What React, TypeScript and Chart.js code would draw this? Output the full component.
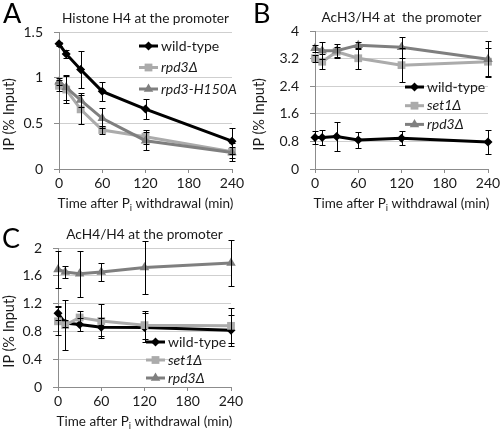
import React, { useEffect, useRef } from "react";
import { Chart, registerables } from "chart.js";
Chart.register(...registerables);

const FONT = "Lato, 'Noto Sans', 'DejaVu Sans', sans-serif";
const TEXT = "#1a1a1a";
const BLACK = "#000000";
const LIGHT = "#ababab";
const DARK = "#7f7f7f";

// shared
const timePoints = [0, 10, 30, 60, 120, 240];
const xTickValues = [0, 60, 120, 180, 240];
const xTitleMain = "Time after P";
const xTitleSub = "i";
const xTitleTail = " withdrawal (min)";
const yTitle = "IP (% Input)";

// Panel A
const aTitle = "Histone H4 at the promoter";
const aYTicks = [0, 0.5, 1, 1.5];
const aLabels = ["wild-type", "rpd3\u0394", "rpd3-H150A"];
const aWildType = [1.37, 1.26, 1.09, 0.85, 0.656, 0.305];
const aWildTypeErr = [0.02, 0.04, 0.2, 0.1, 0.11, 0.14];
const aRpd3 = [0.91, 0.87, 0.653, 0.427, 0.354, 0.19];
const aRpd3Err = [0.06, 0.15, 0.16, 0.04, 0.075, 0.1];
const aH150A = [0.956, 0.894, 0.755, 0.555, 0.31, 0.18];
const aH150AErr = [0.04, 0.14, 0.08, 0.11, 0.1, 0.06];

// Panel B
const bTitle = "AcH3/H4 at  the promoter";
const bYTicks = [0, 0.8, 1.6, 2.4, 3.2, 4];
const bLabels = ["wild-type", "set1\u0394", "rpd3\u0394"];
const bWildType = [0.91, 0.91, 0.94, 0.84, 0.89, 0.78];
const bWildTypeErr = [0.18, 0.22, 0.41, 0.23, 0.2, 0.34];
const bSet1 = [3.21, 3.11, 3.4, 3.21, 3.01, 3.11];
const bSet1Err = [0.1, 0.22, 0.15, 0.3, 0.5, 0.4];
const bRpd3 = [3.5, 3.43, 3.43, 3.59, 3.53, 3.18];
const bRpd3Err = [0.1, 0.25, 0.2, 0.1, 0.3, 0.52];

// Panel C
const cTitle = "AcH4/H4 at the promoter";
const cYTicks = [0, 0.4, 0.8, 1.2, 1.6, 2];
const cLabels = ["wild-type", "set1\u0394", "rpd3\u0394"];
const cWildType = [1.06, 0.92, 0.9, 0.86, 0.855, 0.815];
const cWildTypeErr = [0.1, 0.05, 0.09, 0.13, 0.21, 0.22];
const cSet1 = [0.945, 0.89, 1.0, 0.95, 0.89, 0.88];
const cSet1Err = [0.2, 0.36, 0.1, 0.24, 0.2, 0.25];
const cRpd3 = [1.69, 1.655, 1.63, 1.655, 1.72, 1.785];
const cRpd3Err = [0.27, 0.09, 0.33, 0.13, 0.38, 0.33];

type Series = {
  label: string;
  values: number[];
  errors: number[];
  color: string;
  style: string;
  radius: number;
  italic: boolean;
  order: number;
};

type PanelProps = {
  left: number;
  top: number;
  width: number;
  height: number;
  letter: string;
  letterX: number;
  letterY: number;
  title: string;
  yTicks: number[];
  series: Series[];
  area: { l: number; t: number; r: number; b: number };
  legend: { dx: number; dy: number; gap: number };
};

function drawMarker(ctx: CanvasRenderingContext2D, style: string, x: number, y: number, r: number, color: string) {
  ctx.save();
  ctx.fillStyle = color;
  ctx.beginPath();
  if (style === "rectRot") {
    ctx.moveTo(x, y - r);
    ctx.lineTo(x + r, y);
    ctx.lineTo(x, y + r);
    ctx.lineTo(x - r, y);
  } else if (style === "rect") {
    const s = r * Math.SQRT1_2;
    ctx.rect(x - s, y - s, 2 * s, 2 * s);
  } else {
    let a = 0;
    ctx.moveTo(x + Math.sin(a) * r, y - Math.cos(a) * r);
    a += (2 * Math.PI) / 3;
    ctx.lineTo(x + Math.sin(a) * r, y - Math.cos(a) * r);
    a += (2 * Math.PI) / 3;
    ctx.lineTo(x + Math.sin(a) * r, y - Math.cos(a) * r);
  }
  ctx.closePath();
  ctx.fill();
  ctx.restore();
}

function Panel(p: PanelProps) {
  const ref = useRef<HTMLCanvasElement | null>(null);
  useEffect(() => {
    if (!ref.current) return;
    const extras = {
      id: "extras",
      afterDatasetsDraw(chart: any) {
        const { ctx, scales } = chart;
        const xs = scales.x;
        const ys = scales.y;
        ctx.save();
        ctx.strokeStyle = "#000";
        ctx.lineWidth = 1;
        p.series.forEach((s) => {
          s.values.forEach((v, i) => {
            const px = Math.round(xs.getPixelForValue(timePoints[i])) + 0.5;
            const t = Math.round(ys.getPixelForValue(v + s.errors[i])) + 0.5;
            const b = Math.round(ys.getPixelForValue(v - s.errors[i])) + 0.5;
            ctx.beginPath();
            ctx.moveTo(px, t);
            ctx.lineTo(px, b);
            ctx.moveTo(px - 3, t);
            ctx.lineTo(px + 3, t);
            ctx.moveTo(px - 3, b);
            ctx.lineTo(px + 3, b);
            ctx.stroke();
          });
        });
        ctx.restore();
      },
      afterDraw(chart: any) {
        const { ctx, chartArea } = chart;
        ctx.save();
        ctx.textAlign = "left";
        // panel letter
        ctx.fillStyle = "#000";
        ctx.font = `27px ${FONT}`;
        ctx.textBaseline = "alphabetic";
        ctx.fillText(p.letter, p.letterX, p.letterY);
        // x axis title with subscript
        const cx = (chartArea.left + chartArea.right) / 2;
        ctx.fillStyle = TEXT;
        const mainFont = `13.5px ${FONT}`;
        const subFont = `9.5px ${FONT}`;
        ctx.font = mainFont;
        const w1 = ctx.measureText(xTitleMain).width;
        const w3 = ctx.measureText(xTitleTail).width;
        ctx.font = subFont;
        const w2 = ctx.measureText(xTitleSub).width;
        const base = chartArea.bottom + 39;
        const x0 = cx - (w1 + w2 + w3) / 2;
        ctx.font = mainFont;
        ctx.fillText(xTitleMain, x0, base);
        ctx.font = subFont;
        ctx.fillText(xTitleSub, x0 + w1, base + 3);
        ctx.font = mainFont;
        ctx.fillText(xTitleTail, x0 + w1 + w2, base);
        // legend
        p.series.forEach((s, i) => {
          const ly = chartArea.top + p.legend.dy + i * p.legend.gap;
          const lx = chartArea.left + p.legend.dx;
          ctx.strokeStyle = s.color;
          ctx.lineWidth = 3;
          ctx.beginPath();
          ctx.moveTo(lx, ly);
          ctx.lineTo(lx + 19, ly);
          ctx.stroke();
          drawMarker(ctx, s.style, lx + 9.5, ly, s.radius, s.color);
          ctx.fillStyle = TEXT;
          ctx.font = `${s.italic ? "italic " : ""}14px ${FONT}`;
          ctx.textBaseline = "middle";
          ctx.fillText(s.label, lx + 22, ly);
        });
        ctx.restore();
      },
    };
    const chart = new Chart(ref.current, {
      type: "line",
      data: {
        datasets: p.series.map((s) => ({
          label: s.label,
          data: s.values.map((v, i) => ({ x: timePoints[i], y: v })),
          borderColor: s.color,
          backgroundColor: s.color,
          borderWidth: 3,
          pointStyle: s.style as any,
          pointRadius: s.radius,
          pointBorderWidth: 0,
          pointBackgroundColor: s.color,
          tension: 0,
          order: s.order,
          clip: false as any,
        })),
      },
      options: {
        responsive: false,
        animation: false,
        layout: { padding: { left: 0, top: p.area.t, right: p.width - p.area.r, bottom: 0 } },
        plugins: {
          legend: { display: false },
          tooltip: { enabled: false },
          title: { display: false },
        },
        scales: {
          x: {
            type: "linear",
            min: 0,
            max: 240,
            afterBuildTicks: (s: any) => {
              s.ticks = xTickValues.map((v) => ({ value: v }));
            },
            afterFit: (s: any) => {
              s.height = p.height - p.area.b;
              s.paddingRight = 0;
              s.paddingLeft = 0;
            },
            ticks: {
              color: TEXT,
              font: { family: FONT, size: 14 },
              padding: 2,
              maxRotation: 0,
              callback: (v: any) => String(v),
            },
            grid: { drawOnChartArea: false, drawTicks: true, tickLength: 4, tickColor: "#8c8c8c" },
            border: { color: "#8c8c8c", width: 1 },
          },
          y: {
            min: p.yTicks[0],
            max: p.yTicks[p.yTicks.length - 1],
            afterBuildTicks: (s: any) => {
              s.ticks = p.yTicks.map((v) => ({ value: v }));
            },
            afterFit: (s: any) => {
              s.width = p.area.l;
            },
            ticks: {
              color: TEXT,
              font: { family: FONT, size: 14 },
              padding: 11,
              callback: (v: any) => String(v),
            },
            grid: { color: "#cfcfcf", drawTicks: true, tickLength: 5, tickColor: "#8c8c8c" },
            border: { color: "#8c8c8c", width: 1 },
          },
        },
      },
      plugins: [extras as any],
    });
    return () => chart.destroy();
  }, []);
  const plotW = p.area.r - p.area.l;
  const plotH = p.area.b - p.area.t;
  return (
    <>
      <canvas
        ref={ref}
        width={p.width}
        height={p.height}
        style={{ position: "absolute", left: p.left, top: p.top, width: p.width, height: p.height }}
      />
      <div
        style={{
          position: "absolute",
          left: p.left + p.area.l - 20,
          top: p.top + p.area.t - 23,
          width: plotW + 40,
          height: 18,
          lineHeight: "18px",
          textAlign: "center",
          whiteSpace: "pre",
          fontFamily: FONT,
          fontSize: 13.7,
          color: TEXT,
        }}
      >
        {p.title}
      </div>
      <div
        style={{
          position: "absolute",
          left: p.left,
          top: p.top + p.area.t + 14,
          width: 18,
          height: plotH,
          display: "flex",
          alignItems: "center",
          justifyContent: "center",
        }}
      >
        <span
          style={{
            writingMode: "vertical-rl",
            transform: "rotate(180deg)",
            whiteSpace: "pre",
            fontFamily: FONT,
            fontSize: 14.5,
            lineHeight: "18px",
            color: TEXT,
          }}
        >
          {yTitle}
        </span>
      </div>
    </>
  );
}

const aSeries: Series[] = [
  { label: aLabels[0], values: aWildType, errors: aWildTypeErr, color: BLACK, style: "rectRot", radius: 4.5, italic: false, order: 0 },
  { label: aLabels[1], values: aRpd3, errors: aRpd3Err, color: LIGHT, style: "rect", radius: 5.5, italic: true, order: 2 },
  { label: aLabels[2], values: aH150A, errors: aH150AErr, color: DARK, style: "triangle", radius: 5.5, italic: true, order: 1 },
];
const bSeries: Series[] = [
  { label: bLabels[0], values: bWildType, errors: bWildTypeErr, color: BLACK, style: "rectRot", radius: 4.5, italic: false, order: 2 },
  { label: bLabels[1], values: bSet1, errors: bSet1Err, color: LIGHT, style: "rect", radius: 5.5, italic: true, order: 1 },
  { label: bLabels[2], values: bRpd3, errors: bRpd3Err, color: DARK, style: "triangle", radius: 5.5, italic: true, order: 0 },
];
const cSeries: Series[] = [
  { label: cLabels[0], values: cWildType, errors: cWildTypeErr, color: BLACK, style: "rectRot", radius: 4.5, italic: false, order: 2 },
  { label: cLabels[1], values: cSet1, errors: cSet1Err, color: LIGHT, style: "rect", radius: 5.5, italic: true, order: 1 },
  { label: cLabels[2], values: cRpd3, errors: cRpd3Err, color: DARK, style: "triangle", radius: 5.5, italic: true, order: 0 },
];

export default function App() {
  return (
    <div style={{ position: "absolute", left: 0, top: 0, width: 500, height: 429, background: "#fff", overflow: "hidden" }}>
      <Panel
        left={0}
        top={0}
        width={250}
        height={215}
        letter="A"
        letterX={3}
        letterY={23}
        title={aTitle}
        yTicks={aYTicks}
        series={aSeries}
        area={{ l: 59, t: 32, r: 232, b: 169 }}
        legend={{ dx: 80, dy: 14, gap: 21.5 }}
      />
      <Panel
        left={250}
        top={0}
        width={250}
        height={215}
        letter="B"
        letterX={3}
        letterY={23}
        title={bTitle}
        yTicks={bYTicks}
        series={bSeries}
        area={{ l: 65, t: 31, r: 238, b: 169 }}
        legend={{ dx: 90, dy: 56, gap: 18.7 }}
      />
      <Panel
        left={0}
        top={215}
        width={250}
        height={214}
        letter="C"
        letterX={2}
        letterY={33}
        title={cTitle}
        yTicks={cYTicks}
        series={cSeries}
        area={{ l: 58, t: 33, r: 231, b: 172 }}
        legend={{ dx: 88, dy: 94, gap: 18 }}
      />
    </div>
  );
}
